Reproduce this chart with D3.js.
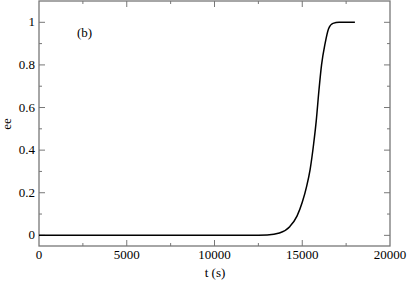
<!DOCTYPE html>
<html>
<head>
<meta charset="utf-8">
<script src="https://d3js.org/d3.v7.min.js"></script>
<style>
body { margin: 0; background: #fff; }
</style>
</head>
<body>
<svg width="407" height="281"></svg>
<script>
// curve
var tVals = [0, 12000, 13000, 13700, 14300, 14700, 15000, 15250, 15450, 15650, 15800, 15950, 16100, 16300, 16500, 16750, 17100, 18000];
var eeVals = [0, 0, 0.002, 0.011, 0.042, 0.09, 0.155, 0.23, 0.31, 0.43, 0.54, 0.68, 0.80, 0.90, 0.97, 0.995, 1.0, 1.0];
var xTicks = [0, 5000, 10000, 15000, 20000];
var yTicks = [0, 0.2, 0.4, 0.6, 0.8, 1];

var data = tVals.map((t, i) => ({t: t, v: eeVals[i]}));

var serif = "'Liberation Serif', 'Times New Roman', Times, serif";
var svg = d3.select("svg").attr("font-family", serif);
var margin = {top: 1, right: 17, bottom: 35, left: 39};
var width = 407, height = 281;

var x = d3.scaleLinear().domain([0, 20000]).range([margin.left, width - margin.right]);
var y = d3.scaleLinear().domain([-0.05, 1.1]).range([height - margin.bottom, margin.top]);

var frame = "#777";
var minorX = d3.range(0, 20001, 2500).filter(d => d % 5000 != 0);
var minorY = d3.range(0.1, 1.05, 0.2);

// ticks on all four sides, pointing in
function ticks(g, vals, len) {
  vals.forEach(function(d) {
    g.append("line").attr("x1", x(d)).attr("x2", x(d)).attr("y1", y.range()[0]).attr("y2", y.range()[0] - len);
    g.append("line").attr("x1", x(d)).attr("x2", x(d)).attr("y1", y.range()[1]).attr("y2", y.range()[1] + len);
  });
}
var tg = svg.append("g").attr("stroke", frame).attr("stroke-width", 1);
ticks(tg, xTicks.slice(1, -1), 6);
ticks(tg, minorX, 3);
[[yTicks, 6], [minorY, 3]].forEach(function(p) {
  p[0].forEach(function(d) {
    tg.append("line").attr("x1", x.range()[0]).attr("x2", x.range()[0] + p[1]).attr("y1", y(d)).attr("y2", y(d));
    tg.append("line").attr("x1", x.range()[1]).attr("x2", x.range()[1] - p[1]).attr("y1", y(d)).attr("y2", y(d));
  });
});

svg.append("rect")
  .attr("x", x.range()[0]).attr("y", y.range()[1])
  .attr("width", x.range()[1] - x.range()[0]).attr("height", y.range()[0] - y.range()[1])
  .attr("fill", "none").attr("stroke", frame).attr("stroke-width", 1.3);

svg.append("g").selectAll("text").data(xTicks).join("text")
  .attr("x", d => x(d)).attr("y", 259)
  .attr("text-anchor", "middle").attr("font-size", 13)
  .text(d => d);

svg.append("g").selectAll("text").data(yTicks).join("text")
  .attr("x", 35).attr("y", d => y(d) + 4)
  .attr("text-anchor", "end").attr("font-size", 13)
  .text(d => d);

var line = d3.line().curve(d3.curveMonotoneX).x(d => x(d.t)).y(d => y(d.v));
svg.append("path").datum(data)
  .attr("d", line).attr("fill", "none")
  .attr("stroke", "#000").attr("stroke-width", 1.5);

svg.append("text").attr("x", 215).attr("y", 277).attr("text-anchor", "middle")
  .attr("font-size", 13).text("t (s)");
svg.append("text").attr("transform", "translate(11,124) rotate(-90)").attr("text-anchor", "middle")
  .attr("font-size", 13).text("ee");
svg.append("text").attr("x", 77).attr("y", 37).attr("font-size", 13).text("(b)");
</script>
</body>
</html>
